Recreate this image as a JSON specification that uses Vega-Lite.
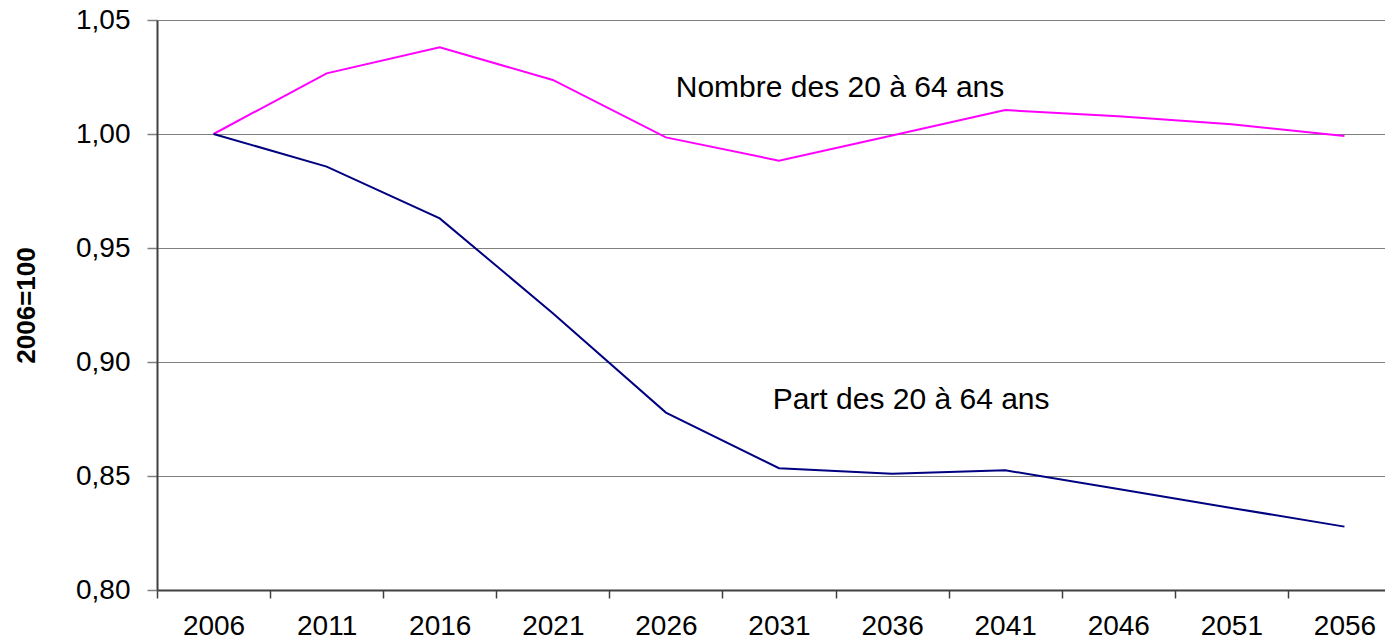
{
  "$schema": "https://vega.github.io/schema/vega-lite/v6.json",
  "width": 1228,
  "height": 570,
  "autosize": "none",
  "padding": {"left": 157, "top": 20, "right": 0, "bottom": 51},
  "background": "white",
  "config": {
    "view": {"stroke": null},
    "font": "Liberation Sans",
    "locale": {"number": {"decimal": ",", "thousands": " ", "grouping": [3], "currency": ["", " €"]}}
  },
  "datasets": {
    "series": [
      {"annee": "2006", "serie": "Nombre des 20 à 64 ans", "valeur": 1.000},
      {"annee": "2011", "serie": "Nombre des 20 à 64 ans", "valeur": 1.0266},
      {"annee": "2016", "serie": "Nombre des 20 à 64 ans", "valeur": 1.038},
      {"annee": "2021", "serie": "Nombre des 20 à 64 ans", "valeur": 1.0237},
      {"annee": "2026", "serie": "Nombre des 20 à 64 ans", "valeur": 0.9985},
      {"annee": "2031", "serie": "Nombre des 20 à 64 ans", "valeur": 0.9883},
      {"annee": "2036", "serie": "Nombre des 20 à 64 ans", "valeur": 0.9993},
      {"annee": "2041", "serie": "Nombre des 20 à 64 ans", "valeur": 1.0105},
      {"annee": "2046", "serie": "Nombre des 20 à 64 ans", "valeur": 1.0078},
      {"annee": "2051", "serie": "Nombre des 20 à 64 ans", "valeur": 1.0043},
      {"annee": "2056", "serie": "Nombre des 20 à 64 ans", "valeur": 0.9991},
      {"annee": "2006", "serie": "Part des 20 à 64 ans", "valeur": 1.000},
      {"annee": "2011", "serie": "Part des 20 à 64 ans", "valeur": 0.9857},
      {"annee": "2016", "serie": "Part des 20 à 64 ans", "valeur": 0.963},
      {"annee": "2021", "serie": "Part des 20 à 64 ans", "valeur": 0.9214},
      {"annee": "2026", "serie": "Part des 20 à 64 ans", "valeur": 0.8778},
      {"annee": "2031", "serie": "Part des 20 à 64 ans", "valeur": 0.8534},
      {"annee": "2036", "serie": "Part des 20 à 64 ans", "valeur": 0.851},
      {"annee": "2041", "serie": "Part des 20 à 64 ans", "valeur": 0.8525},
      {"annee": "2046", "serie": "Part des 20 à 64 ans", "valeur": 0.8443},
      {"annee": "2051", "serie": "Part des 20 à 64 ans", "valeur": 0.836},
      {"annee": "2056", "serie": "Part des 20 à 64 ans", "valeur": 0.8278}
    ],
    "labelNombre": [{"annee": "2031", "valeur": 1.0202, "texte": "Nombre des 20 à 64 ans"}],
    "labelPart": [{"annee": "2036", "valeur": 0.8833, "texte": "Part des 20 à 64 ans"}]
  },
  "layer": [
    {
      "data": {"name": "series"},
      "mark": {"type": "line", "strokeWidth": 2},
      "encoding": {
        "x": {
          "field": "annee",
          "type": "ordinal",
          "scale": {"type": "band", "paddingInner": 0, "paddingOuter": 0, "range": [0, 1244]},
          "axis": {
            "title": null,
            "tickBand": "extent",
            "labelAngle": 0,
            "labelFontSize": 28,
            "labelColor": "black",
            "labelPadding": 14,
            "tickSize": 8,
            "tickWidth": 1.5,
            "tickColor": "#404040",
            "domainColor": "#404040",
            "domainWidth": 2,
            "grid": false
          }
        },
        "y": {
          "field": "valeur",
          "type": "quantitative",
          "scale": {"domain": [0.8, 1.05], "nice": false, "zero": false},
          "axis": {
            "title": "2006=100",
            "titleFontSize": 26,
            "titleFontWeight": "bold",
            "titleColor": "black",
            "titlePadding": 36,
            "values": [0.8, 0.85, 0.9, 0.95, 1.0, 1.05],
            "format": ".2f",
            "labelFontSize": 28,
            "labelColor": "black",
            "labelPadding": 17,
            "tickSize": 10,
            "tickWidth": 1.5,
            "tickColor": "#808080",
            "domainColor": "#404040",
            "domainWidth": 2,
            "grid": true,
            "gridColor": "#808080",
            "gridWidth": 1.2,
            "gridOpacity": 1
          }
        },
        "color": {
          "field": "serie",
          "type": "nominal",
          "scale": {"domain": ["Nombre des 20 à 64 ans", "Part des 20 à 64 ans"], "range": ["#FF00FF", "#000080"]},
          "legend": null
        }
      }
    },
    {
      "data": {"name": "labelNombre"},
      "mark": {"type": "text", "fontSize": 30, "align": "center", "baseline": "middle", "color": "black", "dx": 61},
      "encoding": {
        "x": {"field": "annee", "type": "ordinal"},
        "y": {"field": "valeur", "type": "quantitative"},
        "text": {"field": "texte"}
      }
    },
    {
      "data": {"name": "labelPart"},
      "mark": {"type": "text", "fontSize": 30, "align": "center", "baseline": "middle", "color": "black", "dx": 19},
      "encoding": {
        "x": {"field": "annee", "type": "ordinal"},
        "y": {"field": "valeur", "type": "quantitative"},
        "text": {"field": "texte"}
      }
    }
  ]
}
